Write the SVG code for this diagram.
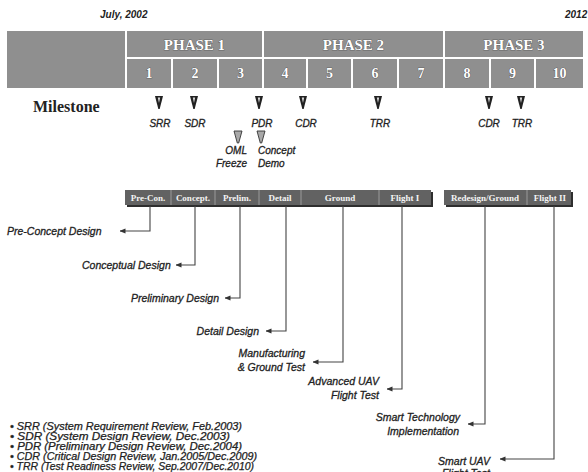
<svg xmlns="http://www.w3.org/2000/svg" width="588" height="472" viewBox="0 0 588 472">
  <style>
    .hdr { fill: #8f8f8f; }
    .phase { font-family: "Liberation Serif", serif; font-weight: bold; font-size: 15px; fill: #ffffff; stroke: #3a3a3a; stroke-width: 0.6; paint-order: stroke; text-anchor: middle; }
    .num { font-family: "Liberation Serif", serif; font-weight: bold; font-size: 14px; fill: #ffffff; stroke: #3a3a3a; stroke-width: 0.6; paint-order: stroke; text-anchor: middle; }
    .date { font-family: "Liberation Sans", sans-serif; font-weight: bold; font-style: italic; font-size: 10px; fill: #222; }
    .ms { font-family: "Liberation Sans", sans-serif; font-style: italic; font-size: 10px; fill: #222; stroke: #222; stroke-width: 0.3; text-anchor: middle; }
    .lbl { font-family: "Liberation Sans", sans-serif; font-style: italic; font-size: 10.5px; fill: #222; stroke: #222; stroke-width: 0.3; }
    .end { text-anchor: end; }
    .seg { fill: #626262; }
    .segtxt { font-family: "Liberation Serif", serif; font-weight: bold; font-size: 9px; fill: #f4f4f4; text-anchor: middle; }
    .wire { fill: none; stroke: #444; stroke-width: 1.1; marker-end: url(#arr); }
    .pin { fill: #222; }
    .pin2 { fill: #a8a8a8; stroke: #333; stroke-width: 0.9; }
    .legend { font-family: "Liberation Sans", sans-serif; font-style: italic; font-size: 10px; fill: #222; stroke: #222; stroke-width: 0.25; }
  </style>
  <defs>
    <marker id="arr" viewBox="0 0 6 6" refX="5.5" refY="3" markerWidth="6" markerHeight="6" markerUnits="userSpaceOnUse" orient="auto">
      <path d="M0,0.6 L6,3 L0,5.4 Z" fill="#333"/>
    </marker>
    <g id="tri">
      <path class="pin" d="M-4,0 H4 L0.7,13 H-0.7 Z"/>
      <path d="M-1.2,1.5 H1.2 L0,7 Z" fill="#d8d8d8"/>
    </g>
    <g id="tri2">
      <path class="pin2" d="M-4,0 H4 L0.7,12 H-0.7 Z"/>
    </g>
  </defs>

  <rect width="588" height="472" fill="#ffffff"/>

  <!-- dates -->
  <text class="date" x="100" y="18">July, 2002</text>
  <text class="date" x="565" y="18">2012</text>

  <!-- schedule header -->
  <g id="header">
    <rect class="hdr" x="7" y="31" width="118" height="57"/>
    <rect class="hdr" x="127" y="31" width="135" height="26"/>
    <rect class="hdr" x="264" y="31" width="179" height="26"/>
    <rect class="hdr" x="445" y="31" width="138" height="26"/>
    <text class="phase" x="194.5" y="50">PHASE 1</text>
    <text class="phase" x="353.5" y="50">PHASE 2</text>
    <text class="phase" x="514" y="50">PHASE 3</text>

    <rect class="hdr" x="127" y="59" width="44" height="29"/>
    <rect class="hdr" x="173" y="59" width="44" height="29"/>
    <rect class="hdr" x="219" y="59" width="43" height="29"/>
    <rect class="hdr" x="264" y="59" width="42" height="29"/>
    <rect class="hdr" x="308" y="59" width="43" height="29"/>
    <rect class="hdr" x="353" y="59" width="44" height="29"/>
    <rect class="hdr" x="399" y="59" width="44" height="29"/>
    <rect class="hdr" x="445" y="59" width="44" height="29"/>
    <rect class="hdr" x="491" y="59" width="43" height="29"/>
    <rect class="hdr" x="536" y="59" width="47" height="29"/>
    <text class="num" x="149" y="78">1</text>
    <text class="num" x="195" y="78">2</text>
    <text class="num" x="240.5" y="78">3</text>
    <text class="num" x="285" y="78">4</text>
    <text class="num" x="329.5" y="78">5</text>
    <text class="num" x="375" y="78">6</text>
    <text class="num" x="421" y="78">7</text>
    <text class="num" x="467" y="78">8</text>
    <text class="num" x="512.5" y="78">9</text>
    <text class="num" x="559.5" y="78">10</text>
  </g>

  <!-- milestones -->
  <g id="milestones">
    <text x="33" y="112" font-family="Liberation Serif, serif" font-weight="bold" font-size="16" fill="#222">Milestone</text>
    <use href="#tri" x="159" y="96"/>
    <use href="#tri" x="194" y="96"/>
    <use href="#tri" x="259" y="96"/>
    <use href="#tri" x="303" y="96"/>
    <use href="#tri" x="378" y="96"/>
    <use href="#tri" x="489" y="96"/>
    <use href="#tri" x="521" y="96"/>
    <text class="ms" x="160" y="127">SRR</text>
    <text class="ms" x="195" y="127">SDR</text>
    <text class="ms" x="262" y="127">PDR</text>
    <text class="ms" x="306" y="127">CDR</text>
    <text class="ms" x="380" y="127">TRR</text>
    <text class="ms" x="489" y="127">CDR</text>
    <text class="ms" x="522" y="127">TRR</text>
    <use href="#tri2" x="238" y="131"/>
    <use href="#tri2" x="261" y="131"/>
    <text class="ms end" x="247" y="154">OML</text>
    <text class="ms end" x="247" y="167">Freeze</text>
    <text class="ms" x="258" y="154" style="text-anchor:start">Concept</text>
    <text class="ms" x="258" y="167" style="text-anchor:start">Demo</text>
  </g>

  <!-- work package bars -->
  <g id="bar-phase12">
    <rect x="127" y="192" width="306" height="15" fill="#2e2e2e"/>
    <rect class="seg" x="125" y="190" width="306" height="15"/>
    <g stroke="#9a9a9a" stroke-width="1">
      <line x1="171" y1="190" x2="171" y2="205"/>
      <line x1="215" y1="190" x2="215" y2="205"/>
      <line x1="259" y1="190" x2="259" y2="205"/>
      <line x1="301" y1="190" x2="301" y2="205"/>
      <line x1="379" y1="190" x2="379" y2="205"/>
    </g>
    <text class="segtxt" x="148" y="201">Pre-Con.</text>
    <text class="segtxt" x="193" y="201">Concept.</text>
    <text class="segtxt" x="237" y="201">Prelim.</text>
    <text class="segtxt" x="280" y="201">Detail</text>
    <text class="segtxt" x="340" y="201">Ground</text>
    <text class="segtxt" x="405" y="201">Flight I</text>
  </g>
  <g id="bar-phase3">
    <rect x="446" y="192" width="127" height="15" fill="#2e2e2e"/>
    <rect class="seg" x="444" y="190" width="127" height="15"/>
    <line x1="527" y1="190" x2="527" y2="205" stroke="#9a9a9a"/>
    <text class="segtxt" x="485" y="201">Redesign/Ground</text>
    <text class="segtxt" x="550" y="201">Flight II</text>
  </g>

  <!-- connectors -->
  <g id="connectors">
    <path class="wire" d="M150,206 V231 H120"/>
    <path class="wire" d="M195,206 V265 H176"/>
    <path class="wire" d="M240,206 V298 H225"/>
    <path class="wire" d="M286,206 V331 H266"/>
    <path class="wire" d="M343,206 V362 H313"/>
    <path class="wire" d="M402,206 V389 H387"/>
    <path class="wire" d="M485,206 V424 H468"/>
    <path class="wire" d="M554,206 V459 H500"/>
  </g>

  <!-- activity labels -->
  <g id="activities">
    <text class="lbl" x="7" y="235">Pre-Concept Design</text>
    <text class="lbl" x="82" y="269">Conceptual Design</text>
    <text class="lbl end" x="219" y="302">Preliminary Design</text>
    <text class="lbl end" x="259" y="335">Detail Design</text>
    <text class="lbl end" x="305" y="357">Manufacturing</text>
    <text class="lbl end" x="305" y="371">&amp; Ground Test</text>
    <text class="lbl end" x="379" y="385">Advanced UAV</text>
    <text class="lbl end" x="379" y="399">Flight Test</text>
    <text class="lbl end" x="460" y="421">Smart Technology</text>
    <text class="lbl end" x="459" y="435">Implementation</text>
    <text class="lbl end" x="490" y="465">Smart UAV</text>
    <text class="lbl end" x="490" y="477">Flight Test</text>
  </g>

  <!-- review legend -->
  <g id="legend">
    <text class="legend" x="10" y="430" textLength="232" lengthAdjust="spacingAndGlyphs">• SRR (System Requirement Review, Feb.2003)</text>
    <text class="legend" x="10" y="440" textLength="220" lengthAdjust="spacingAndGlyphs">• SDR (System Design Review, Dec.2003)</text>
    <text class="legend" x="10" y="450" textLength="232" lengthAdjust="spacingAndGlyphs">• PDR (Preliminary Design Review, Dec.2004)</text>
    <text class="legend" x="10" y="460" textLength="247" lengthAdjust="spacingAndGlyphs">• CDR (Critical Design Review, Jan.2005/Dec.2009)</text>
    <text class="legend" x="10" y="470" textLength="244" lengthAdjust="spacingAndGlyphs">• TRR (Test Readiness Review, Sep.2007/Dec.2010)</text>
  </g>
</svg>
